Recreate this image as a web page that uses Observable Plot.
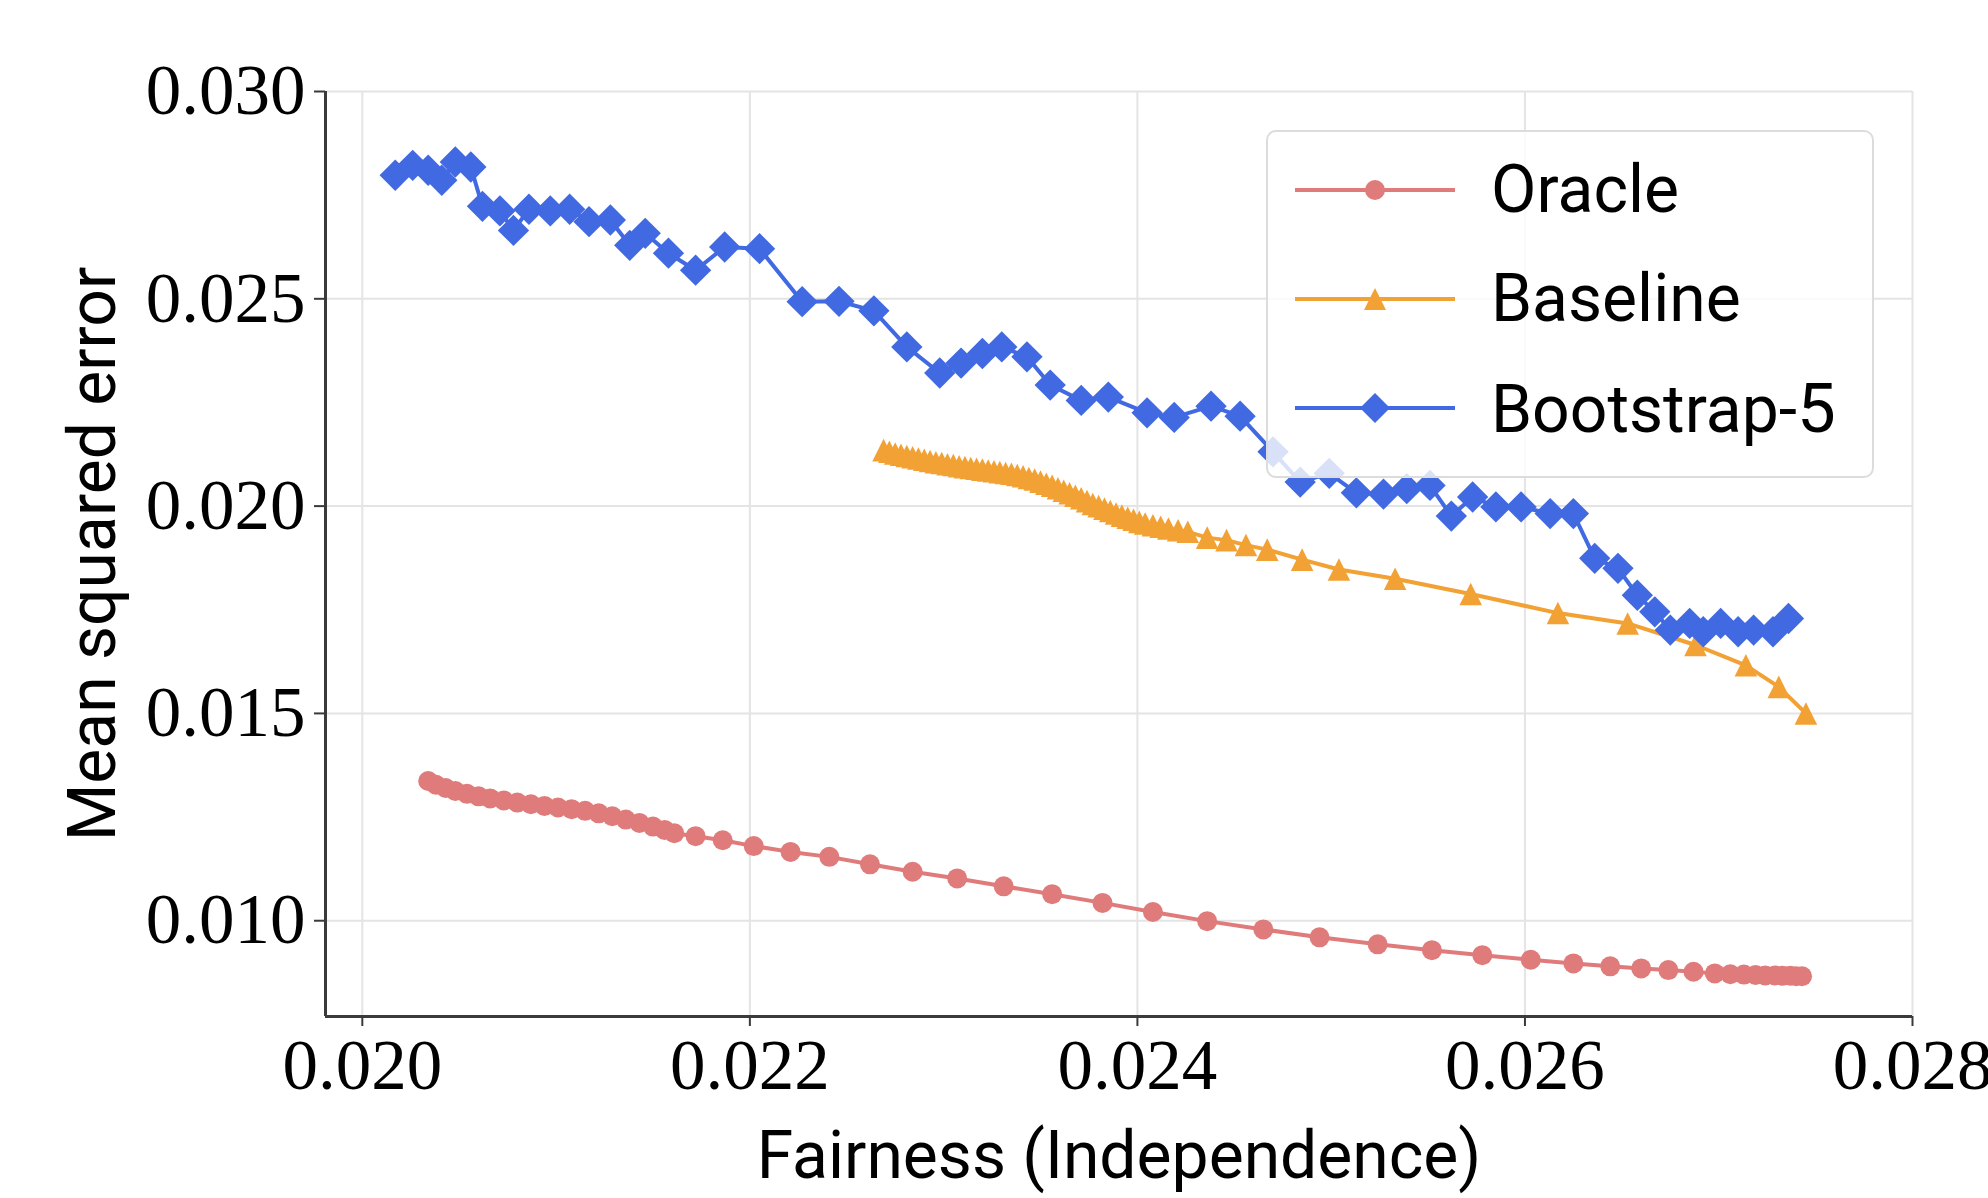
<!DOCTYPE html>
<html><head><meta charset="utf-8">
<script src="https://cdn.jsdelivr.net/npm/d3@7"></script>
<script src="https://cdn.jsdelivr.net/npm/@observablehq/plot@0.6"></script>
<style>
html,body{margin:0;padding:0;background:#fff;}
#wrap{position:relative;width:1988px;height:1198px;overflow:hidden;}
#legend{position:absolute;left:1266px;top:130px;width:604px;height:344px;background:rgba(255,255,255,0.8);border:2px solid #dcdcdc;border-radius:10px;}
.row{position:absolute;left:0;height:80px;display:flex;align-items:center;}
.row svg{margin-left:27px;}
.row span{margin-left:36px;font-family:Roboto,sans-serif;font-size:66px;color:#000;line-height:1;}
.serif{font-family:"Liberation Serif",serif;}
</style>
</head><body>
<div id="wrap"></div>
<script>
// ---- data ----
const seriesNames = ["Oracle", "Baseline", "Bootstrap-5"];
const seriesColors = ["#e07b7b", "#f2a134", "#4169e1"];
const xTicks = [0.020, 0.022, 0.024, 0.026, 0.028];
const yTicks = [0.010, 0.015, 0.020, 0.025, 0.030];
const xDomain = [0.01981, 0.028];
const yDomain = [0.00769, 0.030];
const xLabel = "Fairness (Independence)";
const yLabel = "Mean squared error";

const oracleX = [0.02034,0.02038,0.02043,0.02048,0.02054,0.02060,0.02066,0.02073,0.02080,0.02087,0.02094,0.02101,0.02108,0.02115,0.02122,0.02129,0.02136,0.02143,0.02150,0.02156,0.02161,
  0.02172,0.02186,0.02202,0.02221,0.02241,0.02262,0.02284,0.02307,0.02331,0.02356,0.02382,0.02408,0.02436,0.02465,0.02494,0.02524,0.02552,0.02578,0.02603,0.02625,0.02644,0.02660,0.02674,0.02687,0.02698,
  0.02706,0.02713,0.02719,0.02724,0.02729,0.02733,0.02737,0.02740,0.02743];
const oracleY = [0.01337,0.01328,0.01320,0.01313,0.01306,0.01300,0.01295,0.01290,0.01285,0.01281,0.01277,0.01273,0.01269,0.01265,0.01259,0.01252,0.01244,0.01236,0.01227,0.01219,0.01211,
  0.01204,0.01194,0.01180,0.01166,0.01154,0.01136,0.01118,0.01102,0.01083,0.01064,0.01043,0.01021,0.00999,0.00979,0.00960,0.00943,0.00929,0.00917,0.00906,0.00897,0.00890,0.00885,0.00881,0.00877,0.00873,
  0.00871,0.00870,0.00869,0.00868,0.00868,0.00867,0.00867,0.00866,0.00866];

const baselineX = [0.02269,0.02272,0.02275,0.02278,0.02281,0.02284,0.02287,0.02290,0.02293,0.02296,0.02299,0.02302,0.02305,0.02308,0.02311,0.02314,0.02317,0.02320,0.02323,0.02326,0.02329,0.02332,0.02335,0.02338,0.02341,0.02344,0.02347,0.02350,0.02353,0.02356,0.02359,0.02362,0.02365,0.02368,0.02371,0.02374,0.02377,0.02380,0.02383,0.02386,0.02389,0.02392,0.02395,0.02398,0.02401,0.02404,0.02408,0.02412,0.02416,0.02421,0.02426,
  0.02436,0.02446,0.02456,0.02467,0.02485,0.02504,0.02533,0.02572,0.02617,0.02653,0.02688,0.02714,0.02731,0.02745];
const baselineY = [0.02135,0.02131,0.02127,0.02124,0.02121,0.02118,0.02115,0.02112,0.02109,0.02106,0.02104,0.02101,0.02099,0.02096,0.02094,0.02092,0.02090,0.02088,0.02086,0.02084,0.02082,0.02080,0.02078,0.02075,0.02072,0.02068,0.02064,0.02059,0.02054,0.02049,0.02043,0.02037,0.02031,0.02025,0.02019,0.02012,0.02005,0.02000,0.01994,0.01988,0.01982,0.01977,0.01972,0.01967,0.01962,0.01958,0.01954,0.01950,0.01946,0.01942,0.01938,
  0.01924,0.01918,0.01906,0.01895,0.01871,0.01847,0.01825,0.01788,0.01742,0.01717,0.01665,0.01616,0.01564,0.01500];

const bootstrapX = [0.02017,0.02026,0.02034,0.02041,0.02048,0.02056,0.02062,0.02071,0.02078,0.02086,0.02097,0.02107,0.02117,0.02128,0.02138,0.02146,0.02158,0.02172,0.02187,0.02205,
  0.02227,0.02246,0.02264,0.02281,0.02298,0.02309,0.02320,0.02330,0.02343,0.02355,0.02371,0.02385,0.02405,0.02419,0.02438,0.02453,0.02470,0.02484,0.02499,0.02513,
  0.02527,0.02539,0.02551,0.02562,0.02573,0.02585,0.02598,0.02613,0.02625,0.02636,0.02648,0.02658,0.02667,0.02675,0.02685,0.02692,0.02701,0.02710,0.02718,0.02728,0.02736];
const bootstrapY = [0.02798,0.02822,0.02810,0.02786,0.02830,0.02818,0.02723,0.02712,0.02665,0.02716,0.02712,0.02716,0.02686,0.02690,0.02629,0.02658,0.02610,0.02569,0.02625,0.02621,
  0.02493,0.02494,0.02471,0.02384,0.02321,0.02345,0.02368,0.02384,0.02360,0.02292,0.02255,0.02263,0.02225,0.02214,0.02241,0.02217,0.02131,0.02058,0.02079,0.02032,
  0.02029,0.02042,0.02050,0.01976,0.02022,0.01998,0.01998,0.01982,0.01982,0.01874,0.01850,0.01785,0.01745,0.01701,0.01717,0.01697,0.01717,0.01697,0.01701,0.01697,0.01729];

// ---- build ----
const rows = (X, Y) => X.map((x, i) => ({x, y: Y[i]}));
const oracle = rows(oracleX, oracleY);
const baseline = rows(baselineX, baselineY);
const bootstrap = rows(bootstrapX, bootstrapY);

const diamond = {draw(ctx, size) { const s = Math.sqrt(size / 2); ctx.moveTo(0, -s); ctx.lineTo(s, 0); ctx.lineTo(0, s); ctx.lineTo(-s, 0); ctx.closePath(); }};
const tri = {draw(ctx, size) { const s = Math.sqrt(2 * size) / 2; ctx.moveTo(0, -s); ctx.lineTo(s, s); ctx.lineTo(-s, s); ctx.closePath(); }};

const spine = "#3a3a3a";
const gridC = "#e4e4e4";
const tickFont = "'Liberation Serif', serif";
const labelFont = "Roboto, sans-serif";
const lw = 4;

const chart = Plot.plot({
  width: 1988, height: 1198,
  marginLeft: 325, marginRight: 76, marginTop: 91, marginBottom: 182,
  x: {domain: xDomain},
  y: {domain: yDomain},
  style: {background: "white", overflow: "visible"},
  marks: [
    Plot.gridX(xTicks, {stroke: gridC, strokeOpacity: 1, strokeWidth: 2}),
    Plot.gridY(yTicks, {stroke: gridC, strokeOpacity: 1, strokeWidth: 2}),
    Plot.line(oracle, {x: "x", y: "y", stroke: seriesColors[0], strokeWidth: lw}),
    Plot.dot(oracle, {x: "x", y: "y", r: 10, fill: seriesColors[0], symbol: "circle"}),
    Plot.line(baseline, {x: "x", y: "y", stroke: seriesColors[1], strokeWidth: lw}),
    Plot.dot(baseline, {x: "x", y: "y", r: 9, fill: seriesColors[1], symbol: tri}),
    Plot.line(bootstrap, {x: "x", y: "y", stroke: seriesColors[2], strokeWidth: lw}),
    Plot.dot(bootstrap, {x: "x", y: "y", r: 12.5, fill: seriesColors[2], symbol: diamond}),
    Plot.ruleX([xDomain[0]], {stroke: spine, strokeWidth: 3}),
    Plot.ruleY([yDomain[0]], {stroke: spine, strokeWidth: 3}),
    Plot.axisX(xTicks, {tickFormat: d => d.toFixed(3), tickSize: 10, tickPadding: 12, stroke: spine, strokeWidth: 2, fill: "#000", fontSize: 71, fontFamily: tickFont, label: null}),
    Plot.axisY(yTicks, {tickFormat: d => d.toFixed(3), tickSize: 11, tickPadding: 9, stroke: spine, strokeWidth: 2, fill: "#000", fontSize: 71, fontFamily: tickFont, label: null}),
    Plot.text([xLabel], {text: d => d, frameAnchor: "bottom", dy: 161, lineAnchor: "bottom", textAnchor: "middle", fontSize: 66, fontFamily: labelFont, fill: "#000"}),
    Plot.text([yLabel], {text: d => d, frameAnchor: "left", rotate: -90, dx: -211, lineAnchor: "bottom", textAnchor: "middle", fontSize: 66, fontFamily: labelFont, fill: "#000"})
  ]
});
const wrap = document.getElementById("wrap");
wrap.appendChild(chart);

// ---- legend ----
const legend = document.createElement("div");
legend.id = "legend";
const centers = [58, 167, 276];
const markerSvg = [
  c => `<circle cx="80" cy="15" r="10" fill="${c}"/>`,
  c => `<polygon points="80,4 91,26 69,26" fill="${c}"/>`,
  c => `<polygon points="80,0 95,15 80,30 65,15" fill="${c}"/>`
];
seriesNames.forEach((name, i) => {
  const row = document.createElement("div");
  row.className = "row";
  row.style.top = (centers[i] - 40) + "px";
  const c = seriesColors[i];
  const label = name === "Bootstrap-5" ? 'Bootstrap-<span class="serif" style="margin:0;font-size:69px">5</span>' : name;
  row.innerHTML = `<svg width="160" height="30" viewBox="0 0 160 30"><line x1="0" x2="160" y1="15" y2="15" stroke="${c}" stroke-width="4"/>${markerSvg[i](c)}</svg><span>${label}</span>`;
  legend.appendChild(row);
});
wrap.appendChild(legend);
</script>
</body></html>
